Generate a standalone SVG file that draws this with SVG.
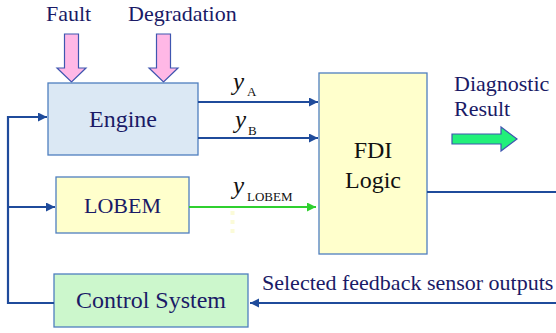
<svg xmlns="http://www.w3.org/2000/svg" width="556" height="333" viewBox="0 0 556 333">
  <style>
    .box { stroke: #4f7fbf; stroke-width: 1.3; }
    text { font-family: 'Liberation Serif', 'DejaVu Serif', Times, serif; }
    .lbl { fill: #1a1a66; }
    .blk { fill: #111111; }
    .wire { fill: none; stroke: #1f4b9b; stroke-width: 2.2; }
    .green { fill: none; stroke: #2fd02f; stroke-width: 2.2; }
    .blockarrow { stroke: #3f56b0; stroke-width: 1.2; stroke-linejoin: miter; }
  </style>
  <defs>
    <marker id="headBlue" markerUnits="userSpaceOnUse" markerWidth="10" markerHeight="10" refX="9" refY="4.5" orient="auto">
      <path d="M0,0 L9,4.5 L0,9 Z" fill="#1f4b9b"/>
    </marker>
    <marker id="headGreen" markerUnits="userSpaceOnUse" markerWidth="10" markerHeight="10" refX="9" refY="4.5" orient="auto">
      <path d="M0,0 L9,4.5 L0,9 Z" fill="#2fd02f"/>
    </marker>
  </defs>

  <rect width="556" height="333" fill="#ffffff"/>

  <!-- external inputs -->
  <g id="fault">
    <text class="lbl" x="46" y="21" font-size="22" font-family="Liberation Serif, serif">Fault</text>
    <path class="blockarrow" fill="#ffb8e6" d="M64.5,34 H78.5 V68 H86 L71.5,82 L57,68 H64.5 Z"/>
  </g>
  <g id="degradation">
    <text class="lbl" x="128" y="21" font-size="22" font-family="Liberation Serif, serif">Degradation</text>
    <path class="blockarrow" fill="#ffb8e6" d="M156.5,34 H170.5 V68 H178 L163.5,82 L149,68 H156.5 Z"/>
  </g>

  <!-- blocks -->
  <g id="engine">
    <rect class="box" x="48" y="83" width="150" height="72" fill="#dbe8f4"/>
    <text class="lbl" x="123" y="127" font-size="24" text-anchor="middle">Engine</text>
  </g>
  <g id="lobem">
    <rect class="box" x="56" y="177" width="133" height="56" fill="#ffffcc"/>
    <text class="lbl" x="122.5" y="213" font-size="22" text-anchor="middle">LOBEM</text>
  </g>
  <g id="fdi-logic">
    <rect class="box" x="319" y="73" width="108" height="181" fill="#ffffcc"/>
    <text class="blk" x="373" y="158" font-size="24" text-anchor="middle">FDI</text>
    <text class="blk" x="373" y="188" font-size="24" text-anchor="middle">Logic</text>
  </g>
  <g id="control-system">
    <rect class="box" x="54" y="274" width="194" height="53" fill="#ccf7cc"/>
    <text class="lbl" x="151" y="308" font-size="24" text-anchor="middle">Control System</text>
  </g>
  <g id="diagnostic-result">
    <text class="lbl" x="454" y="91" font-size="22">Diagnostic</text>
    <text class="lbl" x="454" y="116" font-size="22">Result</text>
    <path class="blockarrow" fill="#22f07a" d="M452,134 H501 V127 L517,139 L501,151 V144 H452 Z"/>
  </g>

  <!-- connectors -->
  <g id="connectors">
    <path class="wire" d="M198,102 H318" marker-end="url(#headBlue)"/>
    <path class="wire" d="M198,138 H318" marker-end="url(#headBlue)"/>
    <path class="green" d="M189,207 H316" marker-end="url(#headGreen)"/>
    <path class="wire" d="M427,192 H556"/>
    <path class="wire" d="M556,303 H250" marker-end="url(#headBlue)"/>
    <path class="wire" d="M54,303 H8 V117 H47" marker-end="url(#headBlue)"/>
    <path class="wire" d="M8,207 H55" marker-end="url(#headBlue)"/>
    <path d="M232.5,211 V235" stroke="#fbfbd8" stroke-width="4" stroke-dasharray="4,5"/>
  </g>

  <!-- signal labels -->
  <g id="signal-labels">
    <text class="blk" x="233" y="90" font-size="25" font-style="italic">y</text>
    <text class="blk" x="247" y="96" font-size="13">A</text>
    <text class="blk" x="235" y="128" font-size="25" font-style="italic">y</text>
    <text class="blk" x="248" y="135" font-size="13">B</text>
    <text class="blk" x="233" y="194" font-size="25" font-style="italic">y</text>
    <text class="blk" x="247" y="201" font-size="13">LOBEM</text>
    <text class="lbl" x="262" y="290" font-size="22">Selected feedback sensor outputs</text>
  </g>
</svg>
